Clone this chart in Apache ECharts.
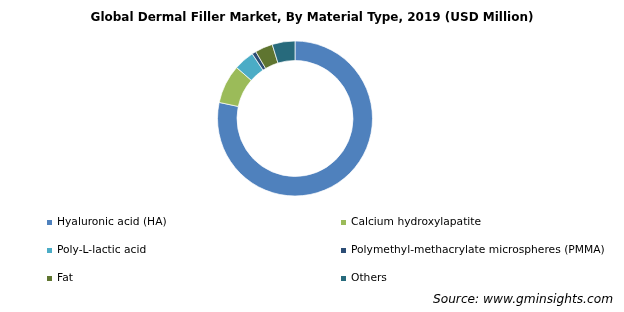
<!DOCTYPE html>
<html><head><meta charset="utf-8">
<script src="https://cdn.jsdelivr.net/npm/echarts@6/dist/echarts.min.js"></script>
<style>html,body{margin:0;padding:0;background:#fff}#c{width:624px;height:312px}</style>
</head><body><div id="c"></div>
<script>
const categories = ['Hyaluronic acid (HA)','Calcium hydroxylapatite','Poly-L-lactic acid','Polymethyl-methacrylate microspheres (PMMA)','Fat','Others'];
const values = [3220, 333, 176, 35, 152, 195];
const colors = ['#4F81BD','#9BBB59','#4BACC6','#2C4D75','#5F7530','#276A7C'];
const leftLegend = [categories[0], categories[2], categories[4]];
const rightLegend = [categories[1], categories[3], categories[5]];

const chart = echarts.init(document.getElementById('c'), null, {renderer:'canvas'});
const legendBase = {
  orient:'vertical', top:212, itemWidth:5, itemHeight:5, itemGap:17, icon:'rect',
  itemStyle:{borderWidth:0},
  textStyle:{fontFamily:'DejaVu Sans', fontSize:10.7, color:'#000'}
};
chart.setOption({
  animation:false,
  color: colors,
  title:[
    {text:'Global Dermal Filler Market, By Material Type, 2019 (USD Million)', left:'center', top:7,
     textStyle:{fontFamily:'DejaVu Sans', fontWeight:'bold', fontSize:12, color:'#000'}},
    {text:'Source: www.gminsights.com', right:6, top:289,
     textStyle:{fontFamily:'DejaVu Sans', fontStyle:'italic', fontWeight:'normal', fontSize:12.2, color:'#000'}}
  ],
  legend:[
    Object.assign({}, legendBase, {left:42, data:leftLegend}),
    Object.assign({}, legendBase, {left:336, data:rightLegend})
  ],
  series:[{
    type:'pie', center:[295,118.5], radius:[58,77.5], startAngle:90, clockwise:true,
    label:{show:false}, labelLine:{show:false}, silent:true,
    itemStyle:{borderColor:'#fff', borderWidth:0.7},
    data: categories.map((n,i)=>({name:n, value:values[i]}))
  }]
});
</script></body></html>
